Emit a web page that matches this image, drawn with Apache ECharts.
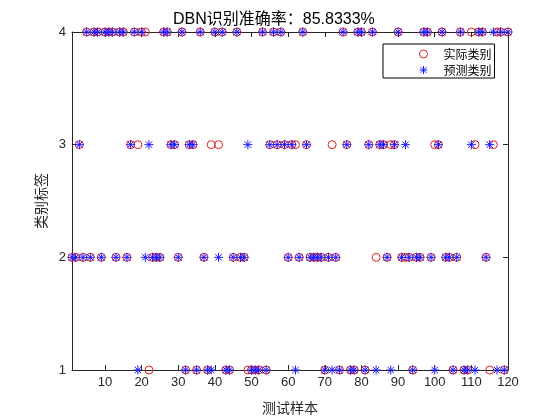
<!DOCTYPE html>
<html>
<head>
<meta charset="utf-8">
<script src="https://cdn.jsdelivr.net/npm/echarts@6/dist/echarts.min.js"></script>
<style>html,body{margin:0;padding:0;background:#fff;}#c{width:560px;height:420px;}</style>
</head>
<body>
<div id="c"></div>
<script>
// sample index 1..120
const actualLabels = [
  2,2,3,2,4,2,4,4,2,4,
  4,4,2,4,4,2,3,4,3,4,
  4,1,2,2,2,4,4,3,3,2,
  4,1,3,3,1,4,2,1,3,4,
  3,4,1,1,2,4,2,2,1,1,
  1,1,4,1,3,4,3,4,3,2,
  3,3,2,4,3,2,2,2,2,1,
  2,3,2,1,4,3,1,1,4,4,
  1,3,4,2,3,3,2,3,3,4,
  2,2,2,1,2,2,4,4,2,3,
  3,4,2,2,1,2,4,1,1,4,
  3,4,4,2,1,3,4,4,1,4
];
const predictedLabels = [
  2,2,3,2,4,2,4,4,2,4,
  4,4,2,4,4,2,3,4,1,4,
  2,3,2,2,2,4,4,3,3,2,
  4,1,3,3,1,4,2,1,1,4,
  2,4,1,1,2,4,2,2,3,1,
  1,1,4,1,3,4,3,4,3,2,
  3,1,2,4,3,2,2,2,2,1,
  2,1,2,1,4,3,1,1,4,4,
  1,3,4,1,3,3,2,1,3,4,
  2,3,2,1,2,2,4,4,2,1,
  3,4,2,2,1,2,4,1,1,3,
  1,4,4,2,3,4,1,4,1,4
];
const xTickValues = [10,20,30,40,50,60,70,80,90,100,110,120];
const yTickValues = [1,2,3,4];
const seriesNames = ['实际类别', '预测类别'];
const titleText = 'DBN识别准确率：85.8333%';
const xName = '测试样本';
const yName = '类别标签';

const actualData = actualLabels.map((v, i) => [i + 1, v]);
const predictedData = predictedLabels.map((v, i) => [i + 1, v]);

const starPath = 'path://M0,-4.5L0,4.5M-4.5,0L4.5,0M-3.2,-3.2L3.2,3.2M-3.2,3.2L3.2,-3.2';
const axisColor = '#262626';
const font = '"Liberation Sans", "Noto Sans CJK SC", sans-serif';
const cjk = '"Noto Sans CJK SC", sans-serif';

const chart = echarts.init(document.getElementById('c'), null, {renderer: 'canvas'});
const xBase = {
  type: 'value', min: 1, max: 120,
  splitLine: {show: false},
  axisLine: {show: true, onZero: false, lineStyle: {color: axisColor, width: 1}},
  axisTick: {show: true, inside: true, length: 5, lineStyle: {color: axisColor}, customValues: xTickValues},
};
const yBase = {
  type: 'value', min: 1, max: 4, interval: 1,
  splitLine: {show: false},
  axisLine: {show: true, onZero: false, lineStyle: {color: axisColor, width: 1}},
  axisTick: {show: true, inside: true, length: 5, lineStyle: {color: axisColor}},
};
chart.setOption({
  animation: false,
  backgroundColor: '#fff',
  title: {
    text: titleText, left: 168, top: 7,
    textStyle: {fontSize: 16, fontWeight: 'normal', color: '#000', fontFamily: font}
  },
  legend: {
    orient: 'vertical', left: 383, top: 44,
    padding: [3, 3, 1, 36], itemGap: 2,
    itemWidth: 30, itemHeight: 8,
    borderColor: '#000', borderWidth: 1, borderRadius: 0,
    backgroundColor: '#fff',
    itemStyle: {borderWidth: 1},
    textStyle: {fontSize: 12, lineHeight: 14, color: '#000', fontFamily: cjk},
    data: seriesNames
  },
  grid: {left: 72, right: 52, top: 32, bottom: 45, containLabel: false},
  xAxis: [
    Object.assign({}, xBase, {
      position: 'bottom', name: xName, nameLocation: 'middle', nameGap: 31,
      nameTextStyle: {fontSize: 14, color: axisColor, fontFamily: cjk},
      axisLabel: {show: true, customValues: xTickValues, fontSize: 13, color: axisColor, margin: 6, fontFamily: font}
    }),
    Object.assign({}, xBase, {position: 'top', axisLabel: {show: false}})
  ],
  yAxis: [
    Object.assign({}, yBase, {
      position: 'left', name: yName, nameLocation: 'middle', nameGap: 19,
      nameTextStyle: {fontSize: 14, color: axisColor, fontFamily: cjk},
      axisLabel: {show: true, fontSize: 13, color: axisColor, margin: 6, fontFamily: font}
    }),
    Object.assign({}, yBase, {position: 'right', axisLabel: {show: false}})
  ],
  series: [
    {
      name: seriesNames[0], type: 'scatter', data: actualData,
      symbol: 'circle', symbolSize: 8,
      itemStyle: {color: 'transparent', borderColor: '#e02020', borderWidth: 1, opacity: 1}
    },
    {
      name: seriesNames[1], type: 'scatter', data: predictedData,
      symbol: starPath, symbolSize: 9,
      itemStyle: {color: 'transparent', borderColor: '#1a1aff', borderWidth: 1, opacity: 1}
    }
  ]
});
</script>
</body>
</html>
